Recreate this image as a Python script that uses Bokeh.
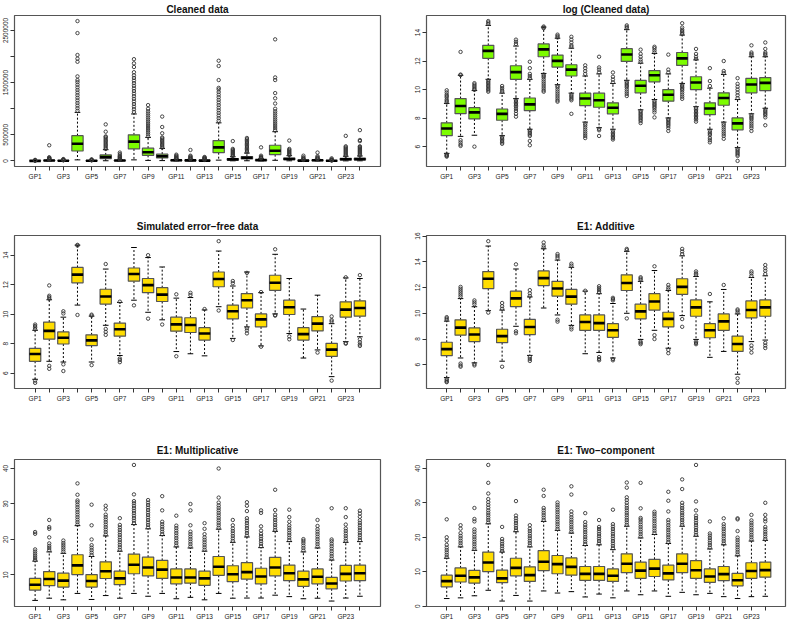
import numpy as np
from bokeh.plotting import figure
from bokeh.layouts import gridplot
from bokeh.models import FixedTicker, Range1d
from bokeh.embed import file_html
from bokeh.resources import INLINE

groups = ["GP1", "GP2", "GP3", "GP4", "GP5", "GP6", "GP7", "GP8", "GP9", "GP10", "GP11", "GP12",
          "GP13", "GP14", "GP15", "GP16", "GP17", "GP18", "GP19", "GP20", "GP21", "GP22", "GP23", "GP24"]

# ---------------- Cleaned data ----------------
clean_lo = [200, 800, 400, 20000, 500, 3000, 500, 20000, 10000, 6000, 1000, 1000,
            700, 15000, 2000, 3000, 1200, 12000, 2500, 500, 800, 150, 1200, 2000]
clean_q1 = [870, 4060, 2800, 190000, 2600, 45000, 5000, 230000, 107000, 57000, 7000, 6400,
            4000, 158000, 17000, 38000, 9800, 120000, 22000, 3800, 7300, 1300, 17500, 20000]
clean_med = [1430, 7000, 4400, 330000, 4000, 75000, 7800, 370000, 165000, 90000, 11700, 10400,
             6200, 260000, 29000, 60000, 15000, 195000, 36000, 5800, 12000, 2000, 31600, 35000]
clean_q3 = [2140, 11700, 6200, 484000, 5600, 115000, 12000, 500000, 245000, 130000, 17000, 17000,
            8700, 390000, 42000, 83000, 22000, 300000, 54000, 8700, 17500, 3000, 48000, 51000]
clean_hi = [4000, 23000, 11000, 930000, 10000, 215000, 22000, 900000, 450000, 240000, 32000, 32000,
            17000, 730000, 80000, 150000, 42000, 560000, 100000, 17000, 33000, 6000, 90000, 95000]
clean_out = [
    [5000, 7000, 9000, 12000, 20000],
    [25000, 30000, 36000, 42000, 50000, 60000, 70000, 300000],
    [12000, 15000, 18000, 22000, 28000, 35000],
    [960000, 1010000, 1060000, 1110000, 1160000, 1210000, 1260000, 1310000, 1360000, 1410000,
     1460000, 1510000, 1550000, 1620000, 1900000, 1960000, 2030000, 2450000, 2680000],
    [11000, 14000, 18000, 23000, 30000],
    [230000, 255000, 280000, 305000, 330000, 355000, 380000, 405000, 430000, 455000, 470000, 560000, 700000],
    [25000, 30000, 40000, 55000, 70000, 85000, 100000, 130000, 160000],
    [940000, 990000, 1040000, 1090000, 1140000, 1190000, 1240000, 1290000, 1340000, 1390000,
     1440000, 1490000, 1540000, 1590000, 1640000, 1700000, 1800000, 1870000, 1950000],
    [470000, 510000, 550000, 590000, 630000, 670000, 710000, 750000, 790000, 830000, 870000,
     910000, 950000, 1000000, 1070000],
    [255000, 280000, 305000, 330000, 355000, 380000, 405000, 430000, 450000, 530000, 650000, 850000],
    [36000, 45000, 55000, 70000, 85000, 100000, 120000],
    [36000, 45000, 55000, 70000, 85000, 100000, 210000],
    [20000, 28000, 36000, 45000, 55000, 65000, 75000],
    [770000, 820000, 870000, 920000, 970000, 1020000, 1070000, 1120000, 1170000, 1220000,
     1270000, 1320000, 1370000, 1400000, 1550000, 1820000, 1920000],
    [90000, 110000, 130000, 150000, 170000, 190000, 210000, 230000, 380000],
    [165000, 190000, 215000, 240000, 265000, 290000, 315000, 340000, 365000, 390000, 415000, 440000],
    [48000, 58000, 68000, 80000, 100000, 260000],
    [590000, 630000, 670000, 710000, 750000, 790000, 830000, 870000, 910000, 950000, 1000000,
     1100000, 1200000, 1300000, 1550000, 1600000, 2330000],
    [110000, 130000, 150000, 170000, 190000, 210000, 230000, 390000],
    [20000, 28000, 38000, 50000, 70000, 100000],
    [37000, 45000, 55000, 70000, 90000, 160000],
    [7000, 10000, 15000, 22000, 30000, 50000],
    [100000, 120000, 140000, 160000, 180000, 200000, 220000, 240000, 260000, 280000, 480000],
    [105000, 125000, 145000, 165000, 185000, 205000, 225000, 245000, 265000, 280000, 380000, 400000, 590000],
]
clean_ticks = [0, 500000, 1000000, 1500000, 2000000, 2500000]
clean_tick_labels = ["0", "500000", "", "1500000", "", "2500000"]

# ---------------- log (Cleaned data) ----------------
log_lo = [5.53, 6.72, 6.8, 10.72, 6.77, 9.37, 7.22, 11.13, 10.34, 9.75, 7.72, 7.33,
          7.22, 10.65, 8.58, 9.3, 8.01, 10.43, 8.8, 7.22, 7.72, 5.93, 8.3, 8.69]
log_q1 = [6.77, 8.31, 7.94, 12.19, 7.85, 10.72, 8.53, 12.3, 11.58, 10.95, 8.87, 8.76,
          8.3, 11.97, 9.77, 10.54, 9.19, 11.69, 10.0, 8.24, 8.9, 7.18, 9.77, 9.93]
log_med = [7.27, 8.85, 8.4, 12.71, 8.3, 11.22, 8.96, 12.82, 12.01, 11.4, 9.37, 9.25,
           8.73, 12.46, 10.27, 11.0, 9.64, 12.19, 10.5, 8.67, 9.41, 7.63, 10.36, 10.47]
log_q3 = [7.67, 9.37, 8.73, 13.1, 8.64, 11.67, 9.41, 13.2, 12.42, 11.74, 9.75, 9.75,
          9.07, 12.87, 10.65, 11.33, 10.0, 12.6, 10.9, 9.07, 9.77, 8.01, 10.79, 10.84]
log_hi = [9.03, 11.0, 9.93, 14.5, 9.75, 13.05, 10.72, 14.38, 13.6, 12.9, 10.95, 11.1,
          10.43, 14.2, 11.85, 12.53, 11.1, 13.82, 12.08, 10.1, 11.06, 9.3, 12.3, 12.3]
log_out = [
    [9.1, 9.2, 9.3, 9.45, 9.55, 9.65, 9.8, 9.95, 5.45, 5.4, 5.35, 5.3],
    [11.02, 11.05, 12.64, 6.45, 6.3, 6.15, 6.05],
    [9.98, 10.05, 10.15, 10.25, 10.35, 10.45, 6.0],
    [14.6, 14.7, 14.8, 10.65, 10.55, 10.45, 10.35, 10.25, 10.15, 10.05, 9.95, 9.85],
    [9.85, 9.95, 10.1, 10.25, 6.7, 6.6, 6.5, 6.4, 6.3, 6.2],
    [13.2, 13.35, 13.5, 9.3, 9.2, 9.1, 9.0, 8.9, 8.8, 8.65, 8.5, 8.3, 8.1],
    [10.8, 10.95, 11.1, 11.5, 11.95, 7.15, 7.05, 6.95, 6.85, 6.75, 6.4, 6.1],
    [14.3, 14.35, 14.42, 11.05, 10.95, 10.85, 10.7, 10.55, 10.4, 10.25, 10.1, 9.95, 9.85],
    [13.65, 13.75, 13.85, 10.25, 10.15, 10.0, 9.85, 9.7, 9.55, 9.4, 9.25, 9.15],
    [13.0, 13.1, 13.3, 13.5, 13.7, 9.65, 9.55, 9.45, 9.35, 9.25, 8.3],
    [11.1, 11.3, 11.5, 11.7, 7.62, 7.5, 7.35, 7.2, 7.05, 6.9, 6.75, 6.6],
    [11.2, 11.4, 11.55, 12.3, 7.25, 7.15, 6.75],
    [10.5, 10.7, 10.9, 11.2, 7.12, 7.0, 6.9, 6.8, 6.7, 6.6, 6.5],
    [14.3, 14.4, 14.5, 10.55, 10.45, 10.35, 10.25, 10.15, 10.0, 9.85, 9.7, 9.55],
    [11.95, 12.1, 12.3, 12.5, 12.8, 8.5, 8.4, 8.3, 8.2, 8.1, 8.0, 7.9, 7.8, 7.65],
    [12.6, 12.75, 12.9, 13.0, 9.2, 9.1, 9.0, 8.9, 8.8, 8.7, 8.55, 8.4, 8.05],
    [11.2, 11.4, 12.45, 7.92, 7.85, 7.75, 7.65, 7.55, 7.45, 7.3, 7.1],
    [13.9, 14.0, 14.1, 14.2, 14.35, 14.65, 10.35, 10.25, 10.15, 10.05, 9.95, 9.8, 9.65, 9.5, 9.35],
    [12.15, 12.3, 12.5, 12.85, 8.7, 8.6, 8.5, 8.4, 8.3, 8.2, 8.1, 8.0, 7.9, 7.75],
    [10.25, 10.6, 11.5, 7.12, 7.0, 6.9, 6.8, 6.6, 6.45, 6.3],
    [11.15, 11.3, 12.0, 7.62, 7.5, 7.35, 7.2, 7.05, 6.9, 6.75, 6.55],
    [9.4, 9.6, 9.8, 10.0, 10.2, 10.4, 10.8, 5.85, 5.75, 5.65, 5.55, 5.45, 5.35, 5.0],
    [12.4, 12.5, 12.6, 13.1, 8.2, 8.1, 8.0, 7.9, 7.75, 7.6, 7.45, 7.3, 7.1],
    [12.4, 12.5, 12.6, 12.85, 13.3, 8.6, 8.5, 8.4, 8.3, 8.2, 8.05, 7.5],
]
log_ticks = [6, 8, 10, 12, 14]
log_tick_labels = ["6", "8", "10", "12", "14"]

# ---------------- Simulated error-free data ----------------
sim_lo = [5.59, 6.81, 6.76, 10.62, 6.76, 9.25, 7.2, 10.95, 10.13, 9.62, 7.47, 7.32,
          7.18, 10.51, 8.36, 9.14, 7.85, 10.02, 8.69, 7.03, 7.58, 5.77, 8.14, 8.47]
sim_q1 = [6.81, 8.31, 7.98, 12.13, 7.87, 10.69, 8.51, 12.24, 11.46, 10.86, 8.85, 8.76,
          8.25, 11.86, 9.69, 10.42, 9.14, 11.62, 9.98, 8.25, 8.87, 7.14, 9.8, 9.87]
sim_med = [7.3, 8.87, 8.4, 12.68, 8.23, 11.2, 8.98, 12.73, 11.97, 11.33, 9.31, 9.27,
           8.69, 12.39, 10.2, 10.95, 9.65, 12.13, 10.47, 8.65, 9.36, 7.6, 10.31, 10.42]
sim_q3 = [7.69, 9.47, 8.8, 13.17, 8.6, 11.69, 9.4, 13.13, 12.42, 11.8, 9.8, 9.76,
          9.09, 12.86, 10.62, 11.4, 10.02, 12.64, 10.95, 9.09, 9.84, 8.03, 10.84, 10.91]
sim_hi = [8.91, 10.98, 9.8, 14.68, 9.87, 13.06, 10.8, 14.52, 13.84, 13.2, 11.09, 11.13,
          10.29, 14.28, 11.91, 12.86, 11.46, 14.06, 12.42, 10.35, 11.29, 9.36, 12.46, 12.42]
sim_out = [
    [8.98, 9.1, 9.2, 9.3, 5.5, 5.35],
    [11.05, 11.15, 11.25, 11.95, 6.5, 6.3],
    [10.05, 10.2, 6.6, 6.15],
    [14.65, 14.7, 9.95],
    [9.9, 9.97, 6.55],
    [13.4, 9.0, 8.8, 8.6],
    [10.85, 7.0, 6.9, 6.75],
    [10.6],
    [14.0, 9.7],
    [9.3],
    [11.35, 7.15],
    [11.3, 11.45],
    [10.35],
    [14.95, 10.25],
    [12.1, 12.25, 8.25],
    [12.8, 9.05, 8.9, 8.7],
    [11.5, 7.8],
    [14.4, 9.95, 9.9],
    [8.5, 8.3],
    [],
    [7.4],
    [9.5, 9.6, 9.85, 5.5],
    [12.5, 8.05, 8.0],
    [12.65, 8.3, 8.1, 7.95, 7.85],
]
sim_ticks = [6, 8, 10, 12, 14]
sim_tick_labels = ["6", "8", "10", "12", "14"]

# ---------------- E1: Additive ----------------
add_lo = [5.01, 6.53, 6.15, 10.2, 6.28, 8.99, 6.73, 10.41, 9.87, 9.06, 6.86, 6.96,
          6.53, 10.0, 7.97, 8.68, 7.29, 9.82, 7.97, 6.58, 7.04, 5.27, 7.8, 7.92]
add_q1 = [6.71, 8.3, 7.8, 11.92, 7.72, 10.51, 8.35, 12.15, 11.34, 10.71, 8.68, 8.68,
          8.13, 11.77, 9.57, 10.25, 8.94, 11.47, 9.77, 8.1, 8.68, 7.04, 9.65, 9.77]
add_med = [7.22, 8.89, 8.35, 12.68, 8.23, 11.16, 8.94, 12.73, 11.92, 11.29, 9.32, 9.24,
           8.68, 12.35, 10.15, 10.91, 9.57, 12.05, 10.46, 8.68, 9.37, 7.62, 10.25, 10.46]
add_q3 = [7.75, 9.49, 8.86, 13.24, 8.76, 11.72, 9.52, 13.29, 12.48, 11.85, 9.87, 9.87,
          9.19, 12.99, 10.71, 11.52, 10.08, 12.68, 11.04, 9.19, 9.95, 8.23, 10.96, 11.04]
add_hi = [9.39, 11.14, 10.51, 15.22, 10.25, 13.44, 11.27, 15.01, 14.13, 13.57, 11.72, 11.52,
          10.76, 14.81, 12.48, 13.32, 11.77, 14.46, 12.86, 10.89, 11.85, 9.95, 12.78, 12.91]
add_out = [
    [9.5, 9.6, 9.7, 4.9, 4.8, 4.7, 4.65],
    [11.3, 11.45, 11.6, 11.75, 11.9, 12.05, 6.1, 5.95, 5.85],
    [10.7, 10.85, 11.0, 6.05, 5.95],
    [15.6, 10.05],
    [10.35, 10.55, 10.8, 5.85],
    [13.8, 8.6, 8.45],
    [11.35, 11.55, 11.8, 6.6, 6.45, 6.3],
    [15.1, 15.25, 15.5],
    [14.3, 14.45, 14.6, 9.5, 9.35],
    [13.7, 13.85, 8.9, 8.75],
    [11.75],
    [11.65, 11.8, 11.95, 12.1, 6.6, 6.45, 6.35],
    [11.0, 11.1, 11.2, 6.45, 6.35],
    [14.9, 15.0, 9.6],
    [12.6, 12.7, 12.8, 7.8, 7.7, 7.6],
    [13.65, 8.3, 8.0],
    [11.85, 12.0, 12.2, 7.15, 6.9],
    [14.6, 14.8, 15.0, 9.55, 8.95],
    [13.0, 13.1, 13.25, 7.8, 7.7, 7.6],
    [11.5],
    [12.2],
    [10.05, 10.2, 10.3, 4.95, 4.6],
    [12.9, 13.1, 13.25, 7.5, 7.25, 6.95],
    [13.05, 13.3, 13.5, 13.75, 7.7, 7.5, 7.3],
]
add_ticks = [6, 8, 10, 12, 14, 16]
add_tick_labels = ["6", "8", "10", "12", "14", "16"]

# ---------------- E1: Multiplicative ----------------
mul_lo = [2.83, 3.45, 3.0, 4.8, 3.1, 4.2, 3.45, 4.8, 4.0, 4.8, 3.3, 3.7,
          3.0, 4.8, 3.45, 3.5, 3.5, 4.3, 3.9, 3.3, 3.45, 2.65, 3.5, 4.0]
mul_q1 = [5.75, 7.0, 6.6, 10.1, 6.6, 9.0, 7.26, 10.35, 9.73, 9.03, 7.5, 7.7,
          7.08, 9.9, 8.14, 8.85, 7.5, 9.73, 8.4, 6.8, 7.5, 6.1, 8.3, 8.4]
mul_med = [7.26, 8.85, 8.4, 12.7, 8.3, 11.06, 9.03, 12.9, 12.1, 11.5, 9.3, 9.3,
           9.03, 12.3, 10.2, 10.8, 9.56, 12.1, 10.5, 8.76, 9.5, 7.6, 10.3, 10.5]
mul_q3 = [9.03, 10.97, 10.5, 15.7, 10.1, 13.7, 11.06, 15.9, 15.0, 14.1, 11.7, 11.7,
          11.06, 15.2, 12.6, 13.45, 11.9, 14.96, 12.8, 11.06, 11.7, 9.3, 12.7, 12.8]
mul_hi = [13.9, 16.5, 16.1, 23.9, 15.2, 21.0, 16.7, 24.2, 23.0, 21.1, 17.9, 17.6,
          16.7, 22.9, 19.2, 20.7, 17.7, 22.3, 19.4, 16.5, 17.6, 14.2, 19.2, 19.4]
mul_out = [
    [14.2, 14.8, 15.4, 16.0, 16.6, 17.2, 21.6, 22.1],
    [17.0, 17.6, 18.2, 18.9, 20.6, 23.0, 23.5, 25.5],
    [16.6, 17.2, 17.8, 18.4, 19.0, 19.7],
    [24.2, 24.9, 25.6, 26.3, 27.0, 27.7, 28.4, 29.1, 29.8, 30.5, 31.0, 32.6, 35.8],
    [15.6, 16.3, 17.0, 17.7, 18.4, 20.0, 24.0, 29.8],
    [21.4, 22.1, 22.8, 23.5, 24.2, 24.9, 25.6, 26.3, 27.0, 28.5, 29.5],
    [17.1, 17.8, 18.5, 19.2, 19.9, 20.6, 21.3, 22.0, 22.7, 23.4, 24.1, 26.0],
    [24.6, 25.3, 26.0, 26.7, 27.4, 28.1, 28.8, 29.5, 30.2, 30.8, 32.7, 41.0],
    [23.4, 24.1, 24.8, 25.5, 26.2, 26.9, 27.6, 28.3, 29.0, 29.7, 30.4, 31.1],
    [21.5, 22.2, 22.9, 23.6, 24.3, 25.0, 28.2, 32.2],
    [18.3, 19.0, 19.7, 20.4, 21.1, 21.8, 22.5, 23.2, 23.9, 26.7],
    [18.0, 18.7, 19.4, 20.1, 20.8, 21.5, 22.2, 24.0, 28.2, 30.0],
    [17.1, 17.8, 18.5, 19.2, 19.9, 20.6, 21.5, 23.0, 24.6],
    [23.3, 24.0, 24.7, 25.4, 26.1, 26.8, 27.5, 28.2, 28.9, 29.6, 30.4, 31.8, 40.0],
    [19.6, 20.3, 21.0, 21.7, 22.4, 23.1, 24.0, 25.5],
    [21.1, 21.8, 22.5, 23.2, 23.9, 24.6, 25.3, 26.0, 28.0, 29.5, 30.5],
    [18.1, 18.8, 19.5, 20.2, 20.9, 21.6, 22.5, 23.7, 27.5, 28.2],
    [22.7, 23.4, 24.1, 24.8, 25.5, 26.2, 27.0, 28.3, 34.0],
    [19.8, 20.5, 21.2, 21.9, 22.6, 23.3, 24.0, 25.0, 26.3, 28.4],
    [16.9, 17.6, 18.3, 19.0, 19.6, 20.1],
    [18.0, 18.7, 19.4, 20.1, 20.8, 21.5, 22.2, 22.9, 23.8, 25.5],
    [14.6, 15.3, 16.0, 16.7, 17.4, 18.1, 18.8, 19.5, 20.0, 28.8],
    [19.6, 20.3, 21.0, 21.7, 22.4, 23.1, 24.2, 26.3, 28.8],
    [19.8, 20.5, 21.2, 21.9, 22.6, 23.3, 24.0, 24.7, 25.4, 26.4, 27.3, 28.1],
]
mul_ticks = [10, 20, 30, 40]
mul_tick_labels = ["10", "20", "30", "40"]

# ---------------- E1: Two-component ----------------
two_lo = [2.2, 2.4, 3.0, 4.6, 1.47, 3.1, 1.47, 4.4, 3.8, 4.2, 2.66, 3.5,
          2.4, 4.4, 3.3, 4.4, 2.85, 4.0, 3.3, 3.7, 2.75, 2.2, 2.75, 2.85]
two_q1 = [5.6, 7.0, 6.7, 10.0, 6.8, 8.8, 7.16, 10.3, 9.4, 9.0, 7.5, 7.5,
          7.16, 9.7, 8.07, 8.6, 7.6, 9.7, 8.07, 6.9, 7.4, 5.9, 8.07, 8.4]
two_med = [7.25, 8.8, 8.35, 12.66, 8.07, 11.1, 9.0, 12.9, 12.2, 11.4, 9.36, 9.36,
           8.8, 12.3, 10.3, 10.9, 9.5, 12.3, 10.4, 8.6, 9.3, 7.5, 10.2, 10.46]
two_q3 = [9.0, 11.1, 10.4, 15.7, 10.45, 13.9, 11.4, 16.1, 14.7, 14.0, 11.5, 11.5,
          10.8, 15.2, 12.8, 13.6, 11.9, 15.2, 13.2, 10.8, 11.5, 9.5, 12.6, 12.8]
two_hi = [13.9, 17.2, 16.2, 23.9, 15.7, 21.6, 17.2, 24.6, 22.0, 21.2, 17.6, 17.8,
          16.4, 23.2, 19.8, 20.8, 18.2, 23.2, 20.3, 16.6, 17.8, 14.6, 18.9, 19.1]
two_out = [
    [14.2, 14.9, 15.6, 16.3, 17.0, 17.8, 19.0, 20.0, 25.2],
    [17.6, 18.3, 19.0, 19.7, 20.4, 21.2, 22.5, 23.5],
    [16.6, 17.3, 18.0, 18.7, 19.4, 20.1, 20.8, 21.6, 22.3, 24.6, 25.3, 28.5],
    [24.3, 25.0, 25.7, 26.4, 27.1, 27.8, 28.6, 29.4, 30.2, 31.1, 32.7, 35.8, 41.0],
    [16.0, 16.7, 17.4, 18.1, 18.8, 19.5, 23.0],
    [22.0, 22.7, 23.4, 24.1, 24.8, 25.5, 26.3, 30.5],
    [17.6, 18.3, 19.0, 19.7, 20.4, 21.1, 21.8, 22.5, 23.5],
    [25.0, 25.7, 26.4, 27.1, 27.8, 28.5, 32.0, 33.8],
    [22.4, 23.1, 23.8, 24.5, 25.2, 25.9, 26.6, 27.3, 28.0, 28.7, 29.4, 30.1],
    [21.6, 22.3, 23.0, 23.7, 24.4, 25.1, 25.8, 26.6, 27.5, 32.4, 34.8],
    [18.0, 18.7, 19.4, 20.1, 20.8, 21.5, 22.2, 22.9, 23.6, 24.4, 27.0],
    [18.2, 18.9, 19.6, 20.3, 21.0, 21.7, 22.4, 23.0, 25.0],
    [16.8, 17.5, 18.2, 18.9, 19.6, 20.3, 21.0, 21.7, 22.4, 23.1, 23.8, 28.0],
    [23.6, 24.3, 25.0, 25.7, 26.4, 27.1, 27.8, 28.5, 29.2, 30.0, 30.8, 31.6, 34.4, 35.9],
    [20.2, 20.9, 21.6, 22.3, 23.0, 23.7, 24.4, 25.1, 25.6, 28.4, 35.8],
    [21.2, 21.9, 22.6, 23.3, 24.0, 24.7, 25.4, 26.1, 26.8, 27.4],
    [18.6, 19.3, 20.0, 20.7, 21.4, 22.1, 22.8, 23.5, 24.3, 25.0, 27.5, 30.6, 33.2],
    [23.6, 24.3, 25.0, 25.7, 26.4, 27.1, 27.8, 28.5, 29.2, 30.0, 34.0, 36.8],
    [20.7, 21.4, 22.1, 22.8, 23.5, 24.2, 24.9, 25.6, 26.3, 27.8, 30.4, 41.0],
    [17.0, 17.7, 18.4, 19.1, 19.8, 20.5, 21.1, 24.6],
    [18.2, 18.9, 19.6, 20.3, 21.0, 21.7, 22.4, 23.1, 23.8, 25.5],
    [15.0, 15.7, 16.4, 17.1, 17.8, 18.5, 19.2, 19.9, 21.8, 25.2, 25.5],
    [19.3, 20.0, 20.7, 21.4, 22.1, 22.8, 23.5, 24.2, 24.9, 26.5],
    [19.5, 20.2, 20.9, 21.6, 22.3, 23.0, 24.6, 25.3, 26.5, 30.0],
]
two_ticks = [0, 10, 20, 30, 40]
two_tick_labels = ["0", "10", "20", "30", "40"]

GREEN = "#7CFC00"
YELLOW = "#FFDD00"
FONT = "Liberation Sans"


def make_panel(title, lo, q1, med, q3, hi, out, fill, yticks, ylabels,
               height, border_top, border_bottom, left_col, title_standoff):
    n = len(groups)
    x = np.arange(1, n + 1, dtype=float)
    allv = list(lo) + list(hi) + [v for o in out for v in o]
    ymin, ymax = min(allv), max(allv)
    pad = 0.04 * (ymax - ymin)
    p = figure(width=397, height=height,
               x_range=Range1d(0.5 - 0.04 * n, n + 0.5 + 0.04 * n),
               y_range=Range1d(ymin - pad, ymax + pad),
               output_backend="svg", toolbar_location=None,
               min_border_left=14 if left_col else 29,
               min_border_right=17 if left_col else 9,
               min_border_top=border_top, min_border_bottom=border_bottom,
               title=title)
    p.title.text_font = FONT
    p.title.text_font_size = "10px"
    p.title.text_font_style = "bold"
    p.title.align = "center"
    p.title.standoff = title_standoff
    p.title.text_color = "#111111"
    p.xgrid.visible = False
    p.ygrid.visible = False
    p.outline_line_color = "#555555"
    p.outline_line_width = 1.2
    p.background_fill_color = "white"
    p.border_fill_color = "white"

    # whiskers
    p.segment(x, q3, x, hi, line_color="black", line_width=1, line_dash="2 2")
    p.segment(x, q1, x, lo, line_color="black", line_width=1, line_dash="2 2")
    # staples
    p.segment(x - 0.2, hi, x + 0.2, hi, line_color="black", line_width=1)
    p.segment(x - 0.2, lo, x + 0.2, lo, line_color="black", line_width=1)
    # boxes
    p.vbar(x=x, width=0.8, top=q3, bottom=q1, fill_color=fill, line_color="#555555", line_width=1.2)
    # medians
    p.segment(x - 0.4, med, x + 0.4, med, line_color="black", line_width=2.6)
    # outliers
    ox = [x[i] for i in range(n) for _ in out[i]]
    oy = [v for i in range(n) for v in out[i]]
    p.scatter(ox, oy, marker="circle", size=3.4, fill_color=None, line_color="#333333", line_width=0.9)

    p.xaxis.ticker = FixedTicker(ticks=list(range(1, n + 1)))
    p.xaxis.major_label_overrides = {i + 1: (groups[i] if i % 2 == 0 else "") for i in range(n)}
    p.yaxis.ticker = FixedTicker(ticks=yticks)
    p.yaxis.major_label_overrides = {t: l for t, l in zip(yticks, ylabels)}
    p.yaxis.major_label_orientation = "vertical"
    for ax in (p.xaxis[0], p.yaxis[0]):
        ax.axis_line_color = None
        ax.major_tick_out = 4
        ax.major_tick_in = 0
        ax.major_tick_line_color = "#333333"
        ax.minor_tick_line_color = None
        ax.major_label_text_font = FONT
        ax.major_label_text_font_size = "6.5px"
        ax.major_label_text_color = "#222222"
        ax.major_label_standoff = 2
    return p


row_h = [208, 226, 188]
row_top = [13, 27, 25]
row_bottom = [42, 46, 14]
row_st = [2, 7, 7]

p1 = make_panel("Cleaned data", clean_lo, clean_q1, clean_med, clean_q3, clean_hi, clean_out,
                GREEN, clean_ticks, clean_tick_labels, row_h[0], row_top[0], row_bottom[0], True, row_st[0])
p2 = make_panel("log (Cleaned data)", log_lo, log_q1, log_med, log_q3, log_hi, log_out,
                GREEN, log_ticks, log_tick_labels, row_h[0], row_top[0], row_bottom[0], False, row_st[0])
p3 = make_panel("Simulated error\u2212free data", sim_lo, sim_q1, sim_med, sim_q3, sim_hi, sim_out,
                YELLOW, sim_ticks, sim_tick_labels, row_h[1], row_top[1], row_bottom[1], True, row_st[1])
p4 = make_panel("E1: Additive", add_lo, add_q1, add_med, add_q3, add_hi, add_out,
                YELLOW, add_ticks, add_tick_labels, row_h[1], row_top[1], row_bottom[1], False, row_st[1])
p5 = make_panel("E1: Multiplicative", mul_lo, mul_q1, mul_med, mul_q3, mul_hi, mul_out,
                YELLOW, mul_ticks, mul_tick_labels, row_h[2], row_top[2], row_bottom[2], True, row_st[2])
p6 = make_panel("E1: Two\u2212component", two_lo, two_q1, two_med, two_q3, two_hi, two_out,
                YELLOW, two_ticks, two_tick_labels, row_h[2], row_top[2], row_bottom[2], False, row_st[2])

grid = gridplot([[p1, p2], [p3, p4], [p5, p6]], toolbar_location=None)

open("out.html", "w").write(file_html(grid, INLINE))
